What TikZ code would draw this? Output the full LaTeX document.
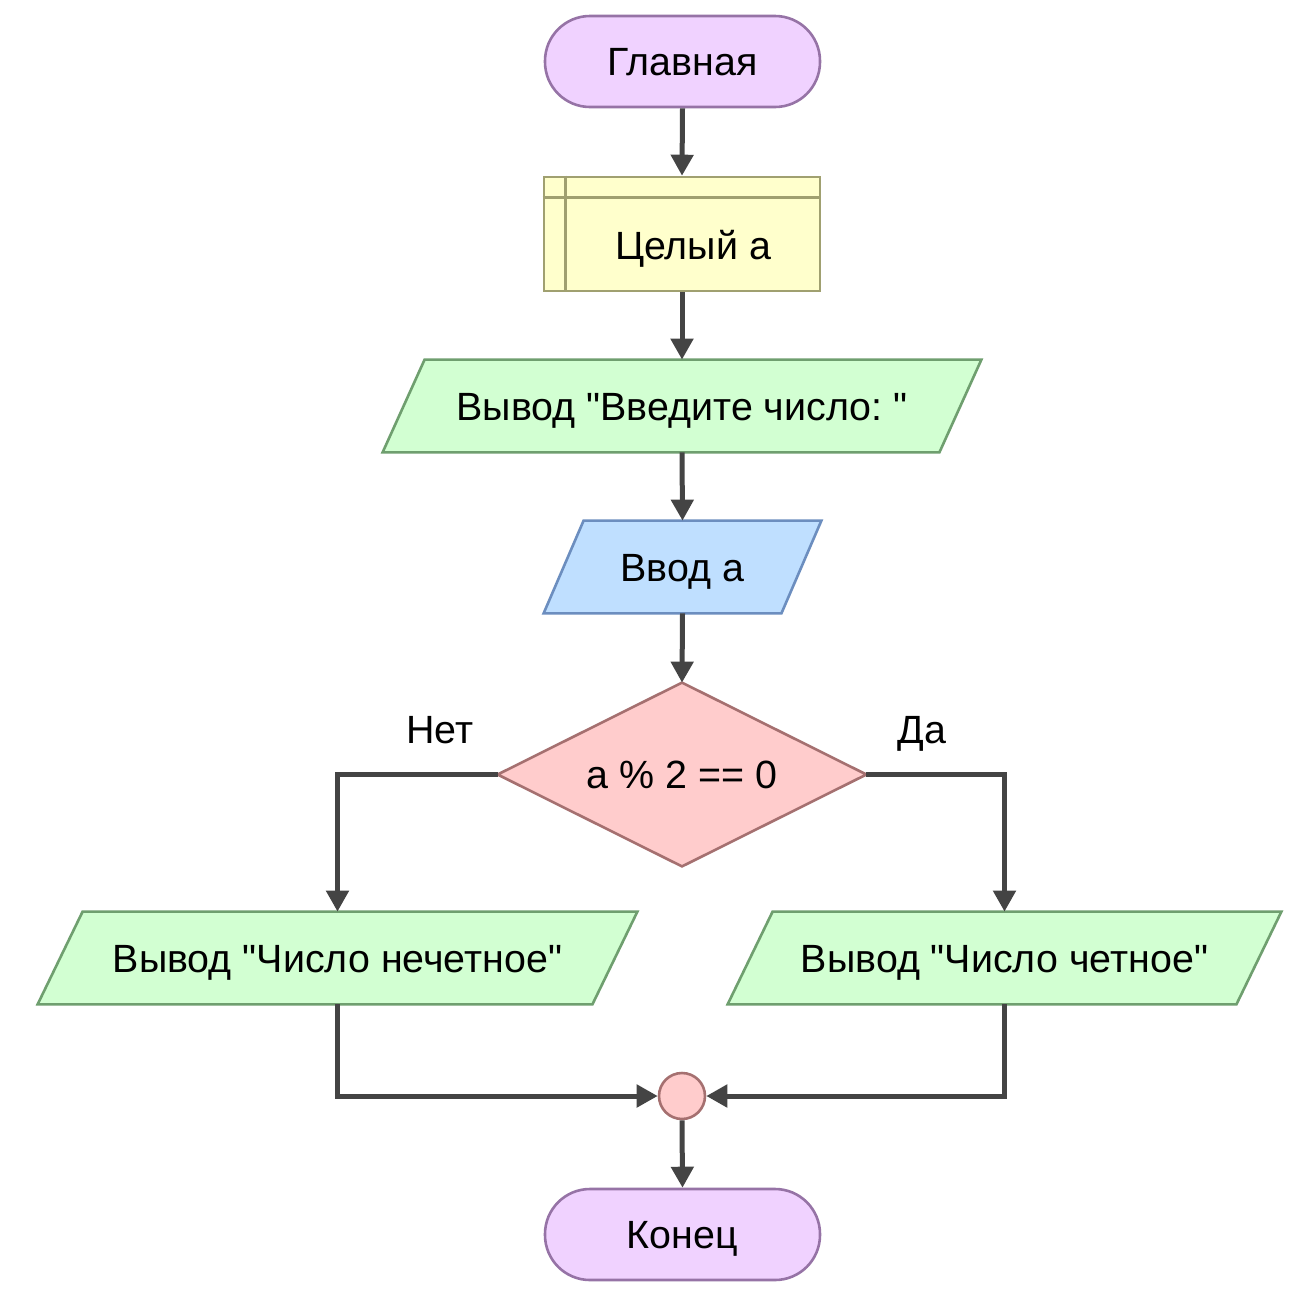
\documentclass[tikz,border=0pt]{standalone}
\usepackage{fontspec}
\setmainfont{Liberation Sans}
\usetikzlibrary{shapes.geometric,arrows.meta,backgrounds,calc}
\definecolor{termfill}{HTML}{F0D2FF}
\definecolor{termdraw}{HTML}{9673A6}
\definecolor{storefill}{HTML}{FFFFCC}
\definecolor{storedraw}{HTML}{A0A070}
\definecolor{outfill}{HTML}{D2FFD2}
\definecolor{outdraw}{HTML}{6F9F6F}
\definecolor{infill}{HTML}{BFDFFF}
\definecolor{indraw}{HTML}{6C8EBF}
\definecolor{decfill}{HTML}{FFCCCC}
\definecolor{decdraw}{HTML}{A57070}
\definecolor{linec}{HTML}{444444}
\newcommand{\qq}{\textquotedbl}
\frenchspacing
\tikzset{
  txt/.style={font=\fontsize{19.7}{23}\selectfont\frenchspacing, text=black, text height=14.1pt, text depth=0pt},
  term/.style={txt, draw=termdraw, fill=termfill, line width=1.3pt, rounded corners=22.5pt,
    minimum width=137.5pt, minimum height=45.5pt, inner sep=0pt},
  storebox/.style={draw=storedraw, fill=storefill, line width=1.3pt,
    minimum width=138pt, minimum height=57pt, inner sep=0pt},
  parabox/.style={txt, inner sep=0pt, minimum height=46pt},
  outshape/.style={draw=outdraw, fill=outfill, line width=1.3pt, line join=miter},
  inshape/.style={draw=indraw, fill=infill, line width=1.3pt, line join=miter},
  decshape/.style={draw=decdraw, fill=decfill, line width=1.3pt, line join=miter},
  decbox/.style={txt, inner sep=0pt, minimum width=184pt, minimum height=91.5pt},
  joinc/.style={circle, draw=decdraw, fill=decfill, line width=1.3pt, minimum size=23pt, inner sep=0pt},
  conn/.style={draw=linec, line width=2.5pt, -{Triangle[length=10.5pt,width=11pt]}},
  lbl/.style={txt}
}
\begin{document}
\begin{tikzpicture}[x=0.5pt,y=-0.5pt]
\useasboundingbox (0,0) rectangle (1296,1296);

% nodes
\node[term] (start) at (682.5,61.5) {Главная};
\node[storebox] (store) at (682,234) {};
\draw[draw=storedraw, line width=1.3pt] ($(store.north west)+(23,0)$) -- ($(store.south west)+(23,0)$);
\draw[draw=storedraw, line width=1.3pt] ($(store.north west)+(0,22)$) -- ($(store.north east)+(0,22)$);
\node[txt] (storet) at (693,245) {Целый а};

\node[parabox, minimum width=278pt] (out1) at (682,406) {Вывод \qq Введите число: \qq};
\node[parabox, minimum width=118.5pt] (in1) at (682.5,567) {Ввод а};
\node[decbox] (dec) at (682,774.5) {a \% 2 == 0};
\node[lbl] (no) at (440,729) {Нет};
\node[lbl] (yes) at (922,729) {Да};
\node[parabox, minimum width=277pt] (out2) at (337.5,958) {Вывод \qq Число нечетное\qq};
\node[parabox, minimum width=254pt] (out3) at (1004.5,958) {Вывод \qq Число четное\qq};
\node[joinc] (join) at (682,1096) {};
\node[term] (end) at (682.5,1234.5) {Конец};

% shapes behind text
\begin{scope}[on background layer]
  \fill[white] (0,0) rectangle (1296,1296);
  \path[outshape] ($(out1.south west)+(-21,0)$) -- ($(out1.north west)+(21,0)$) -- ($(out1.north east)+(21,0)$) -- ($(out1.south east)+(-21,0)$) -- cycle;
  \path[inshape] ($(in1.south west)+(-20,0)$) -- ($(in1.north west)+(20,0)$) -- ($(in1.north east)+(20,0)$) -- ($(in1.south east)+(-20,0)$) -- cycle;
  \path[decshape] (dec.north) -- (dec.east) -- (dec.south) -- (dec.west) -- cycle;
  \path[outshape] ($(out2.south west)+(-22.5,0)$) -- ($(out2.north west)+(22.5,0)$) -- ($(out2.north east)+(22.5,0)$) -- ($(out2.south east)+(-22.5,0)$) -- cycle;
  \path[outshape] ($(out3.south west)+(-22.5,0)$) -- ($(out3.north west)+(22.5,0)$) -- ($(out3.north east)+(22.5,0)$) -- ($(out3.south east)+(-22.5,0)$) -- cycle;
\end{scope}

% connectors
\draw[conn] (start.south) -- (store.north);
\draw[conn] (store.south) -- (out1.north);
\draw[conn] (out1.south) -- (in1.north);
\draw[conn] (in1.south) -- (dec.north);
\draw[conn] (dec.west) -| (out2.north);
\draw[conn] (dec.east) -| (out3.north);
\draw[conn] (out2.south) |- (join.west);
\draw[conn] (out3.south) |- (join.east);
\draw[conn] (join.south) -- (end.north);
\end{tikzpicture}
\end{document}
